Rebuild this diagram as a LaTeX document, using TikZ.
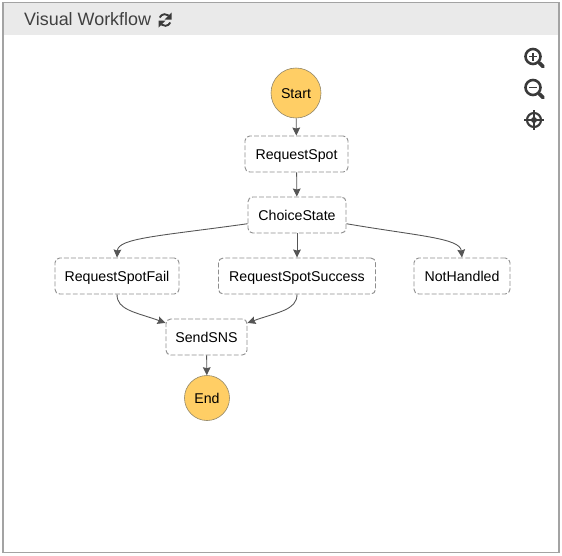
\documentclass[tikz,border=0pt]{standalone}
\usepackage{xcolor}
\usepackage{fontspec}
\setmainfont{Liberation Sans}
\usetikzlibrary{arrows.meta, positioning, calc}
\definecolor{framegray}{HTML}{A3A3A3}
\definecolor{headgray}{HTML}{EAEAEA}
\definecolor{linegray}{HTML}{555555}
\definecolor{dashgray}{HTML}{8E8E8E}
\definecolor{startfill}{HTML}{FFCE65}
\definecolor{startline}{HTML}{8F8467}
\definecolor{icongray}{HTML}{3A3A3A}
\begin{document}
\begin{tikzpicture}[
		x=0.03cm, y=-0.03cm,
		statebox/.style={rectangle, draw=dashgray, fill=white, dash pattern=on 4.2pt off 1.8pt, line width=0.8pt, rounded corners=4pt, minimum height=1.08cm, inner sep=0pt, text height=10.5pt, text depth=1pt, font=\fontsize{12.1}{14}\selectfont},
		endpoint/.style={circle, draw=startline, fill=startfill, line width=0.5pt, inner sep=0pt, text height=10.5pt, text depth=1pt, font=\fontsize{12.1}{14}\selectfont},
		line/.style={draw=linegray, line width=0.75pt, -{Stealth[length=2.4mm, width=2.3mm, inset=0.3mm]}},
		icon/.style={draw=icongray, line width=2.2pt},
		>={Stealth}
		]
		\useasboundingbox (0,0) rectangle (562,555);
		
		% --- Panel and Header ---
		\fill[headgray] (3,3) rectangle (559,35);
		\draw[framegray, line width=0.9pt] (3,2.5) rectangle (559,552.5);
		\node[anchor=west, text=black!75, font=\fontsize{15.3}{18}\selectfont, inner sep=0pt] (title) at (24,19.5) {Visual Workflow};
		
		% --- Main Column ---
		\node[endpoint, minimum size=1.5cm] (start) at (296,93) {Start};
		\node[statebox, minimum width=3.09cm] (request_spot) at (296.5,154) {RequestSpot};
		\node[statebox, minimum width=2.94cm] (choice_state) at (297,215) {ChoiceState};
		
		% --- Branches ---
		\node[statebox, minimum width=3.72cm] (spot_fail) at (117,276) {RequestSpotFail};
		\node[statebox, minimum width=4.71cm] (spot_success) at (297,276) {RequestSpotSuccess};
		\node[statebox, minimum width=2.88cm] (not_handled) at (462,276) {NotHandled};
		
		% --- Lower Part ---
		\node[statebox, minimum width=2.43cm] (send_sns) at (206.5,337) {SendSNS};
		\node[endpoint, minimum size=1.35cm] (end_state) at (207,398) {End};
		
		% --- Straight Connections ---
		\draw[line] (start) -- (request_spot);
		\draw[line] (request_spot) -- (choice_state);
		\draw[line] (choice_state) -- (spot_success);
		\draw[line] (send_sns) -- (end_state);
		
		% --- Curved Connections ---
		\draw[line] (choice_state.190) .. controls (160,236) and (118,238) .. (spot_fail.north);
		\draw[line] (choice_state.-10) .. controls (418,236) and (460,238) .. (not_handled.north);
		\draw[line] (spot_fail.south) .. controls (117,310) and (135,312) .. (send_sns.161);
		\draw[line] (spot_success.south) .. controls (297,310) and (278,312) .. (send_sns.19);
		
		% --- Refresh Icon ---
		\draw[icon, line width=1.6pt] (159.7,17.5) arc[start angle=-155, end angle=-50, radius=5.8];
		\fill[icongray] (171.5,12.5) -- (171.5,19.5) -- (164.5,19.5) -- cycle;
		\draw[icon, line width=1.6pt] (170.3,22.5) arc[start angle=25, end angle=130, radius=5.8];
		\fill[icongray] (158.5,27.5) -- (158.5,20.5) -- (165.5,20.5) -- cycle;
		
		% --- Zoom Icons ---
		\foreach \ypos/\plus in {56.5/1, 87.5/0} {
			\draw[icon] (533,\ypos) circle[radius=7.5];
			\draw[icon, line width=3.2pt, line cap=round] ($(533,\ypos)+(6.5,6.5)$) -- ($(533,\ypos)+(10,10)$);
			\draw[icon, line width=1.6pt] ($(533,\ypos)+(-4,0)$) -- ($(533,\ypos)+(4,0)$);
			\ifnum\plus=1
				\draw[icon, line width=1.6pt] ($(533,\ypos)+(0,-4)$) -- ($(533,\ypos)+(0,4)$);
			\fi
		}
		
		% --- Center Icon ---
		\draw[icon, line width=1.8pt] (534,120) circle[radius=7];
		\fill[icongray] (534,120) circle[radius=3];
		\draw[icon, line width=1.6pt] (524,120) -- (544,120);
		\draw[icon, line width=1.6pt] (534,110) -- (534,130);
		
	\end{tikzpicture}
\end{document}
